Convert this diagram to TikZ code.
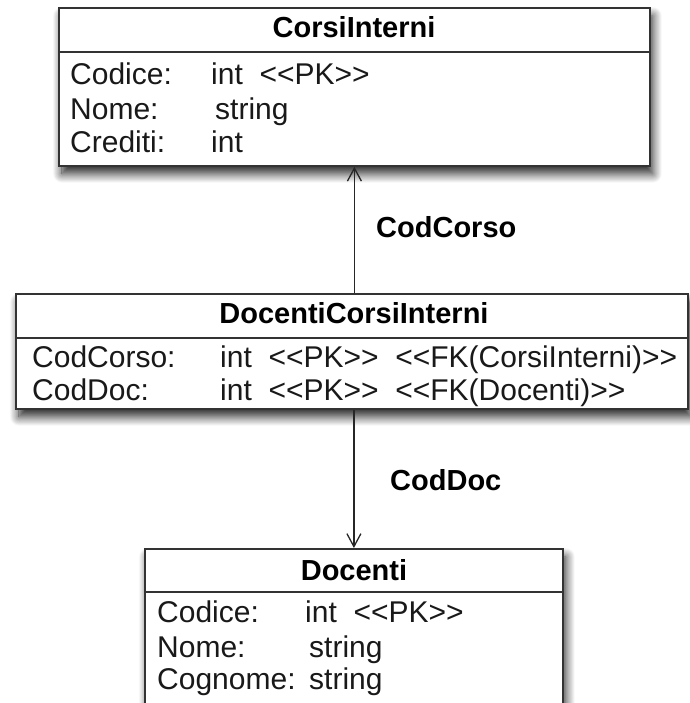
\documentclass[tikz,border=0pt]{standalone}
\usepackage{fontspec}
\setmainfont{Liberation Sans}
\usetikzlibrary{arrows.meta,shadows.blur}

% "<<" and ">>" are kept as two separate characters (no guillemet ligature)
\newcommand{\stl}{<{}<}
\newcommand{\str}{>{}>}

\tikzset{
  x=1pt, y=1pt,
  tablebox/.style={draw=black!80, line width=1.8pt, fill=white, anchor=north west,
    inner sep=0pt, blur shadow={shadow xshift=3pt, shadow yshift=-8pt,
    shadow blur radius=9pt, shadow blur steps=12, shadow opacity=85}},
  sepline/.style={draw=black!80, line width=1.8pt},
  tabletitle/.style={font=\bfseries\fontsize{29}{31}\selectfont, anchor=base, inner sep=0pt},
  field/.style={font=\fontsize{30}{32}\selectfont, anchor=base west, inner sep=0pt, text=black!90},
  linklabel/.style={font=\bfseries\fontsize{29}{31}\selectfont, anchor=base west, inner sep=0pt},
  fkarrow/.style={draw=black!85, line width=1.3pt, -{Straight Barb[length=13pt,width=14pt,line width=1.3pt]}}
}

\begin{document}
\begin{tikzpicture}
\useasboundingbox (0,0) rectangle (689,703);

% CorsiInterni
\node[tablebox, minimum width=591pt, minimum height=158pt] (ci) at (58,696) {};
\draw[sepline] ([yshift=-45pt]ci.north west) -- ([yshift=-45pt]ci.north east);
\node[tabletitle] (ciT) at (354,665) {CorsiInterni};
\node[field] (ciA1) at (70,618) {Codice:};
\node[field] (ciB1) at (211,618) {int\ \ \stl PK\str};
\node[field] (ciA2) at (70,583) {Nome:};
\node[field] (ciB2) at (215,583) {string};
\node[field] (ciA3) at (70,550) {Crediti:};
\node[field] (ciB3) at (211,550) {int};

% DocentiCorsiInterni
\node[tablebox, minimum width=672pt, minimum height=115pt] (dci) at (15,410) {};
\draw[sepline] ([yshift=-45pt]dci.north west) -- ([yshift=-45pt]dci.north east);
\node[tabletitle] (dciT) at (354,379) {DocentiCorsiInterni};
\node[field] (dciA1) at (32,335) {CodCorso:};
\node[field] (dciB1) at (220,335) {int\ \ \stl PK\str\ \ \stl FK(CorsiInterni)\str};
\node[field] (dciA2) at (32,302) {CodDoc:};
\node[field] (dciB2) at (220,302) {int\ \ \stl PK\str\ \ \stl FK(Docenti)\str};

% Docenti
\node[tablebox, minimum width=418pt, minimum height=200pt] (doc) at (144,155) {};
\draw[sepline] ([yshift=-44pt]doc.north west) -- ([yshift=-44pt]doc.north east);
\node[tabletitle] (docT) at (354,122) {Docenti};
\node[field] (docA1) at (157,80) {Codice:};
\node[field] (docB1) at (305,80) {int\ \ \stl PK\str};
\node[field] (docA2) at (157,45) {Nome:};
\node[field] (docB2) at (309,45) {string};
\node[field] (docA3) at (157,13) {Cognome:};
\node[field] (docB3) at (309,13) {string};

% foreign-key links
\draw[fkarrow] (dci.north -| ci.south) -- (ci.south);
\node[linklabel] (l1) at (376,465) {CodCorso};
\draw[fkarrow] (dci.south -| doc.north) -- (doc.north);
\node[linklabel] (l2) at (390,212) {CodDoc};
\end{tikzpicture}
\end{document}
